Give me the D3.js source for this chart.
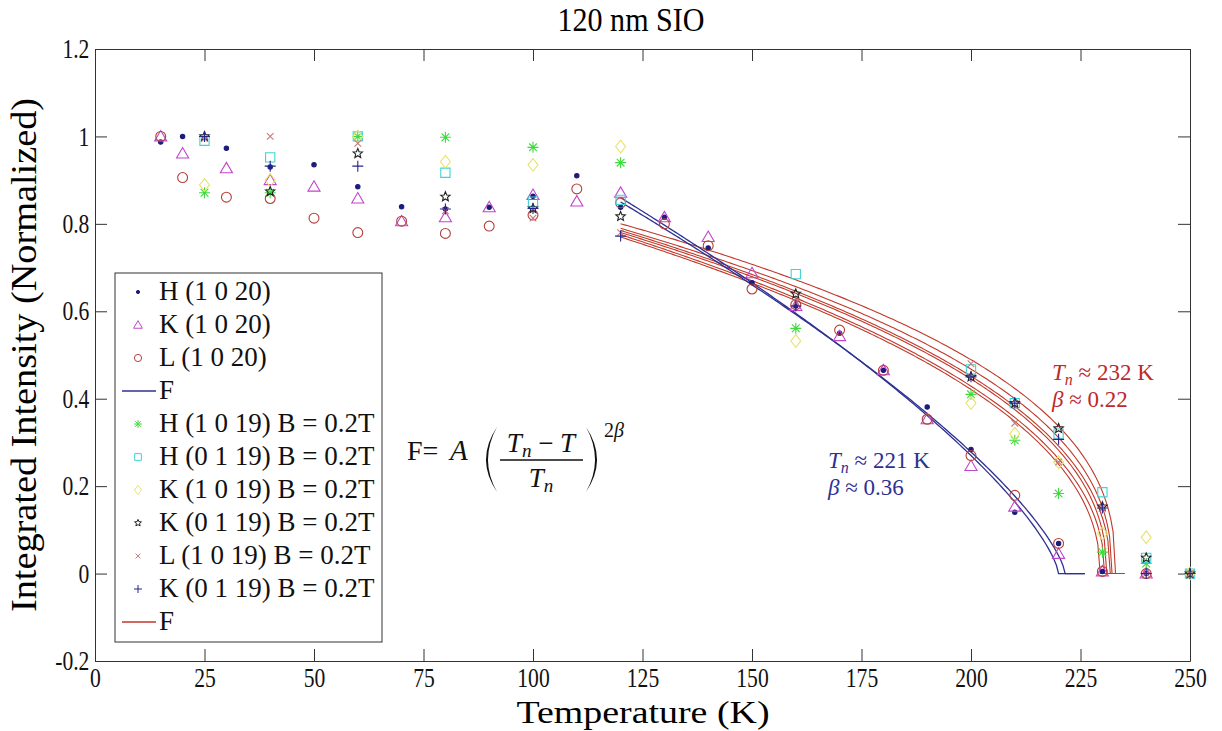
<!DOCTYPE html>
<html>
<head>
<meta charset="utf-8">
<script src="https://cdn.jsdelivr.net/npm/d3@7"></script>
<style>
  body { margin: 0; background: #fff; }
  svg text { font-family: "Liberation Serif", serif; }
</style>
</head>
<body>
<div id="chart"></div>
<script>
// Temperatures (K) and normalized intensities
const temps20 = [15, 20, 30, 40, 50, 60, 70, 80, 90, 100, 110, 120, 130, 140, 150, 160, 170, 180, 190, 200, 210, 220, 230, 240];
const h1020 = [0.987, 1.0, 0.973, 0.93, 0.935, 0.885, 0.839, 0.834, 0.838, 0.863, 0.91, 0.838, 0.815, 0.745, 0.665, 0.612, 0.55, 0.465, 0.381, 0.284, 0.14, 0.069, 0.005, 0.0];
const k1020 = [1.0, 0.961, 0.927, 0.9, 0.885, 0.858, 0.806, 0.815, 0.838, 0.866, 0.851, 0.871, 0.815, 0.77, 0.687, 0.612, 0.543, 0.465, 0.353, 0.246, 0.153, 0.045, 0.005, 0.0];
const l1020 = [1.0, 0.906, 0.861, 0.858, 0.813, 0.78, 0.806, 0.778, 0.795, 0.82, 0.88, 0.848, 0.8, 0.75, 0.651, 0.615, 0.557, 0.465, 0.353, 0.27, 0.179, 0.069, 0.005, 0.0];

const tempsB = [25, 40, 60, 80, 100, 120, 160, 200, 210, 220, 230, 240, 250];
const h1019 = [0.871, 0.871, 1.0, 0.998, 0.975, 0.94, 0.561, 0.41, 0.305, 0.183, 0.049, 0.023, 0.0];
const h0119 = [0.99, 0.952, 1.0, 0.917, 0.851, 0.855, 0.685, 0.467, 0.39, 0.32, 0.186, 0.036, 0.0];
const k1019 = [0.889, 0.9, 1.0, 0.942, 0.935, 0.977, 0.532, 0.39, 0.32, 0.255, 0.092, 0.083, 0.0];
const k0119 = [1.0, 0.874, 0.961, 0.862, 0.835, 0.817, 0.64, 0.45, 0.39, 0.332, 0.153, 0.036, 0.0];
const l1019 = [0.995, 1.0, 0.984, 0.83, 0.813, 0.78, 0.62, 0.48, 0.344, 0.255, 0.15, 0.0, 0.0];
const k0119b = [1.0, 0.932, 0.932, 0.834, 0.835, 0.772, 0.612, 0.45, 0.39, 0.307, 0.15, 0.0, 0.0];

// Fit parameters for F = A((Tn - T)/Tn)^(2 beta)
const blueTn = [220, 221.5];
const blueBeta = [0.36, 0.36];
const blueA = [1.517, 1.491];
const redTn = [229.5, 230.5, 231, 231.8, 232.2, 233];
const redBeta = [0.23, 0.23, 0.22, 0.22, 0.21, 0.2];
const redA = [1.082, 1.087, 1.077, 1.082, 1.072, 1.069];

const xTicks = [0, 25, 50, 75, 100, 125, 150, 175, 200, 225, 250];
const yTicks = [-0.2, 0, 0.2, 0.4, 0.6, 0.8, 1, 1.2];

const W = 1222, H = 731;
const plot = { left: 95, right: 1190, top: 49, bottom: 661 };

const svg = d3.select("#chart").append("svg")
  .attr("width", W).attr("height", H);

const x = d3.scaleLinear().domain([0, 250]).range([plot.left, plot.right]);
const y = d3.scaleLinear().domain([-0.2, 1.2]).range([plot.bottom, plot.top]);

// Axes (ticks pointing inward, labels on bottom and left)
const tickLen = 12;
const styleAxis = (g) => {
  g.select(".domain").attr("stroke", "#333");
  g.selectAll(".tick line").attr("stroke", "#333");
};

svg.append("g")
  .attr("transform", `translate(0,${plot.bottom})`)
  .call(d3.axisBottom(x).tickValues(xTicks).tickSizeInner(-tickLen).tickSizeOuter(0).tickPadding(7))
  .call(styleAxis)
  .selectAll("text")
  .attr("font-size", 27).attr("fill", "#111")
  .attr("transform", "scale(0.8,1)");

svg.append("g")
  .attr("transform", `translate(0,${plot.top})`)
  .call(d3.axisTop(x).tickValues(xTicks).tickSizeInner(-tickLen).tickSizeOuter(0).tickFormat(""))
  .call(styleAxis);

svg.append("g")
  .attr("transform", `translate(${plot.left},0)`)
  .call(d3.axisLeft(y).tickValues(yTicks).tickSizeInner(-tickLen).tickSizeOuter(0).tickPadding(7)
    .tickFormat((d) => String(+d.toFixed(1))))
  .call(styleAxis)
  .selectAll("text")
  .attr("font-size", 27).attr("fill", "#111")
  .attr("transform", "scale(0.8,1)");

svg.append("g")
  .attr("transform", `translate(${plot.right},0)`)
  .call(d3.axisRight(y).tickValues(yTicks).tickSizeInner(-tickLen).tickSizeOuter(0).tickFormat(""))
  .call(styleAxis);

// Title and axis labels
svg.append("text")
  .attr("x", 631).attr("y", 31)
  .attr("text-anchor", "middle")
  .attr("font-size", 33)
  .attr("textLength", 147).attr("lengthAdjust", "spacingAndGlyphs")
  .text("120 nm SIO");

svg.append("text")
  .attr("x", 643).attr("y", 723)
  .attr("text-anchor", "middle")
  .attr("font-size", 31)
  .attr("textLength", 253).attr("lengthAdjust", "spacingAndGlyphs")
  .text("Temperature (K)");

svg.append("text")
  .attr("transform", "translate(36,355) rotate(-90)")
  .attr("text-anchor", "middle")
  .attr("font-size", 35)
  .attr("textLength", 514).attr("lengthAdjust", "spacingAndGlyphs")
  .text("Integrated Intensity (Normalized)");

// Marker shapes
function markerPath(type, s) {
  const p = d3.path();
  if (type === "triangle") {
    const h = s * 0.9;
    p.moveTo(0, -h * 0.6); p.lineTo(s * 0.55, h * 0.45); p.lineTo(-s * 0.55, h * 0.45); p.closePath();
  } else if (type === "circle") {
    p.arc(0, 0, s * 0.45, 0, 2 * Math.PI);
  } else if (type === "dot") {
    p.arc(0, 0, s * 0.2, 0, 2 * Math.PI);
  } else if (type === "square") {
    const a = s * 0.42;
    p.rect(-a, -a, 2 * a, 2 * a);
  } else if (type === "diamond") {
    const a = s * 0.45, b = s * 0.58;
    p.moveTo(0, -b); p.lineTo(a, 0); p.lineTo(0, b); p.lineTo(-a, 0); p.closePath();
  } else if (type === "star") {
    const R = s * 0.45, r = R * 0.45;
    for (let i = 0; i < 10; i++) {
      const ang = -Math.PI / 2 + i * Math.PI / 5;
      const rr = i % 2 === 0 ? R : r;
      if (i === 0) p.moveTo(rr * Math.cos(ang), rr * Math.sin(ang));
      else p.lineTo(rr * Math.cos(ang), rr * Math.sin(ang));
    }
    p.closePath();
  } else if (type === "cross") {
    const a = s * 0.3;
    p.moveTo(-a, -a); p.lineTo(a, a); p.moveTo(a, -a); p.lineTo(-a, a);
  } else if (type === "plus") {
    const a = s * 0.5;
    p.moveTo(-a, 0); p.lineTo(a, 0); p.moveTo(0, -a); p.lineTo(0, a);
  } else if (type === "asterisk") {
    const a = s * 0.5, d = a * 0.7;
    p.moveTo(-a, 0); p.lineTo(a, 0); p.moveTo(0, -a); p.lineTo(0, a);
    p.moveTo(-d, -d); p.lineTo(d, d); p.moveTo(d, -d); p.lineTo(-d, d);
  }
  return p.toString();
}

const series = [
  { name: "H (1 0 20)", t: temps20, v: h1020, type: "dot", color: "#1c1c7a", fill: true },
  { name: "K (1 0 20)", t: temps20, v: k1020, type: "triangle", color: "#c146cc" },
  { name: "L (1 0 20)", t: temps20, v: l1020, type: "circle", color: "#b5403c" },
  { name: "F", line: "#2e3192" },
  { name: "H (1 0 19) B = 0.2T", t: tempsB, v: h1019, type: "asterisk", color: "#3ddc3d" },
  { name: "H (0 1 19) B = 0.2T", t: tempsB, v: h0119, type: "square", color: "#3fd3d6" },
  { name: "K (1 0 19) B = 0.2T", t: tempsB, v: k1019, type: "diamond", color: "#e8e26a" },
  { name: "K (0 1 19) B = 0.2T", t: tempsB, v: k0119, type: "star", color: "#222" },
  { name: "L (1 0 19) B = 0.2T", t: tempsB, v: l1019, type: "cross", color: "#c67a7a" },
  { name: "K (0 1 19) B = 0.2T", t: tempsB, v: k0119b, type: "plus", color: "#25258f" },
  { name: "F", line: "#c0392b" }
];

// Fit curves
function fitCurve(Tn, beta, A, Tend) {
  const pts = [];
  const n = 200;
  for (let i = 0; i <= n; i++) {
    const T = 120 + (Tn - 120) * i / n;
    pts.push([T, A * Math.pow(Math.max(Tn - T, 0) / Tn, 2 * beta)]);
  }
  pts.push([Tend, 0]);
  return pts;
}
const line = d3.line().x((d) => x(d[0])).y((d) => y(d[1]));

redTn.forEach((Tn, i) => {
  svg.append("path")
    .attr("d", line(fitCurve(Tn, redBeta[i], redA[i], 235)))
    .attr("fill", "none").attr("stroke", "#c0392b").attr("stroke-width", 1.1);
});
blueTn.forEach((Tn, i) => {
  svg.append("path")
    .attr("d", line(fitCurve(Tn, blueBeta[i], blueA[i], 226)))
    .attr("fill", "none").attr("stroke", "#2e3192").attr("stroke-width", 1.3);
});

// Data markers
series.filter((s) => s.t).forEach((s) => {
  svg.append("g").selectAll("path")
    .data(s.t.map((t, i) => [t, s.v[i]]))
    .join("path")
    .attr("transform", (d) => `translate(${x(d[0])},${y(d[1])})`)
    .attr("d", markerPath(s.type, 11))
    .attr("fill", s.fill ? s.color : "none")
    .attr("stroke", s.color)
    .attr("stroke-width", 1.1);
});

// Legend
const lg = svg.append("g");
lg.append("rect")
  .attr("x", 115).attr("y", 273).attr("width", 267).attr("height", 369)
  .attr("fill", "#fff").attr("stroke", "#333").attr("stroke-width", 1);
series.forEach((s, i) => {
  const cy = 292 + i * 33;
  if (s.line) {
    lg.append("line")
      .attr("x1", 122).attr("x2", 156).attr("y1", cy).attr("y2", cy)
      .attr("stroke", s.line).attr("stroke-width", 1.3);
  } else {
    lg.append("path")
      .attr("transform", `translate(138,${cy})`)
      .attr("d", markerPath(s.type, 8))
      .attr("fill", s.fill ? s.color : "none")
      .attr("stroke", s.color).attr("stroke-width", 1);
  }
  lg.append("text")
    .attr("x", 159).attr("y", cy + 8)
    .attr("font-size", 27).attr("fill", "#111")
    .text(s.name);
});

// Formula annotation
const fg = svg.append("g").attr("fill", "#111");
fg.append("text").attr("x", 407).attr("y", 460).attr("font-size", 28).text("F=");
fg.append("text").attr("x", 450).attr("y", 460).attr("font-size", 29).attr("font-style", "italic").text("A");
// thin tall parentheses drawn as crescents
const paren = (x0, dir) => {
  const top = 427, bot = 492, mid = (top + bot) / 2;
  return `M${x0},${top} Q${x0 - dir * 22},${mid} ${x0},${bot} Q${x0 - dir * 18},${mid} ${x0},${top} Z`;
};
fg.append("path").attr("d", paren(497, 1)).attr("fill", "#111");
fg.append("path").attr("d", paren(586, -1)).attr("fill", "#111");
const num = fg.append("text").attr("x", 541).attr("y", 452).attr("text-anchor", "middle").attr("font-size", 27);
num.append("tspan").attr("font-style", "italic").text("T");
num.append("tspan").attr("font-style", "italic").attr("font-size", 19).attr("dy", 5).text("n");
num.append("tspan").attr("dy", -5).text(" \u2212 ");
num.append("tspan").attr("font-style", "italic").text("T");
fg.append("line").attr("x1", 500).attr("x2", 583).attr("y1", 460).attr("y2", 460)
  .attr("stroke", "#111").attr("stroke-width", 1.5);
const den = fg.append("text").attr("x", 541).attr("y", 487).attr("text-anchor", "middle").attr("font-size", 27);
den.append("tspan").attr("font-style", "italic").text("T");
den.append("tspan").attr("font-style", "italic").attr("font-size", 19).attr("dy", 5).text("n");
const sup = fg.append("text").attr("x", 604).attr("y", 437).attr("font-size", 20);
sup.append("tspan").text("2");
sup.append("tspan").attr("font-style", "italic").text("\u03b2");

// Fit result annotations
function fitLabel(x0, y0, tn, beta, color) {
  const t1 = svg.append("text").attr("x", x0).attr("y", y0).attr("font-size", 23).attr("fill", color);
  t1.append("tspan").attr("font-style", "italic").text("T");
  t1.append("tspan").attr("font-style", "italic").attr("font-size", 16).attr("dy", 5).text("n");
  t1.append("tspan").attr("dy", -5).text(` \u2248 ${tn} K`);
  const t2 = svg.append("text").attr("x", x0).attr("y", y0 + 27).attr("font-size", 23).attr("fill", color);
  t2.append("tspan").attr("font-style", "italic").text("\u03b2");
  t2.append("tspan").text(` \u2248 ${beta}`);
}
fitLabel(828, 468, 221, "0.36", "#2e3192");
fitLabel(1052, 380, 232, "0.22", "#be2a2a");
</script>
</body>
</html>
